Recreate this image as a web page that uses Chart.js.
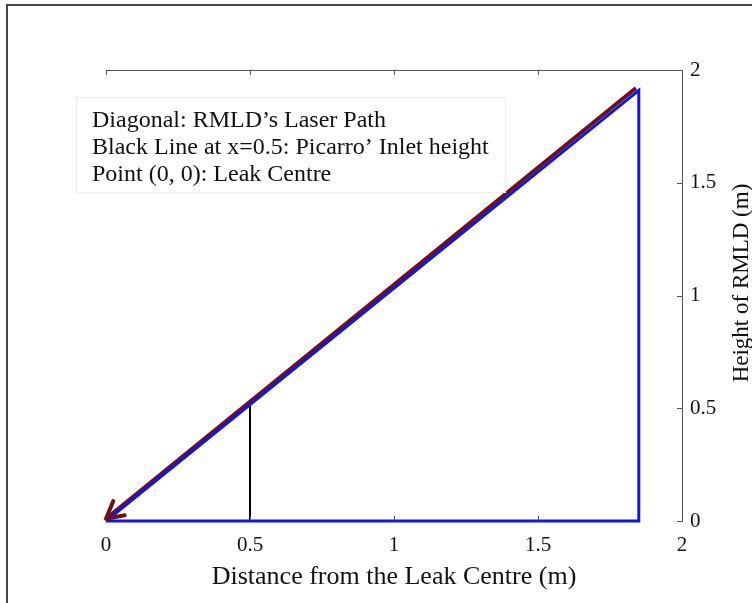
<!DOCTYPE html>
<html>
<head>
<meta charset="utf-8">
<script src="https://cdn.jsdelivr.net/npm/chart.js@4/dist/chart.umd.min.js"></script>
<style>
  body { margin: 0; background: #fff; }
  #wrap { position: relative; width: 752px; height: 603px; overflow: hidden; }
  #frame { position: absolute; left: 6px; top: 4px; width: 800px; height: 700px;
           border-left: 2px solid #444; border-top: 2px solid #444; pointer-events: none; }
</style>
</head>
<body>
<div id="wrap">
  <canvas id="geometry" width="752" height="603"></canvas>
  <div id="frame"></div>
</div>
<script>
// outline of the measurement triangle (blue)
const outlineX = [0, 1.85, 1.85, 0];
const outlineY = [0, 0, 1.91, 0];
// RMLD laser path, drawn from the instrument down to the leak centre
const laserX = [1.84, 0];
const laserY = [1.92, 0.01];
// Picarro inlet at x = 0.5
const inletX = [0.5, 0.5];
const inletY = [0, 0.515];

const tickValues = [0, 0.5, 1, 1.5, 2];
const notes = [
  "Diagonal: RMLD\u2019s Laser Path",
  "Black Line at x=0.5: Picarro\u2019 Inlet height",
  "Point (0, 0): Leak Centre",
];
const yTitle = "Height of RMLD (m)";
const xTitle = "Distance from the Leak Centre (m)";

const serif = "'Liberation Serif', 'Times New Roman', serif";

function pts(xs, ys) {
  return xs.map((x, i) => ({ x: x, y: ys[i] }));
}

const axisDecor = {
  id: "axisDecor",
  afterDatasetsDraw(chart) {
    const { ctx, chartArea: a, scales } = chart;
    const xs = scales.x, ys = scales.y;
    ctx.save();

    // top border and inward ticks
    ctx.strokeStyle = "#555";
    ctx.lineWidth = 1;
    ctx.beginPath();
    ctx.moveTo(a.left, a.top + 0.5);
    ctx.lineTo(a.right, a.top + 0.5);
    tickValues.forEach(v => {
      const px = Math.round(xs.getPixelForValue(v)) + 0.5;
      ctx.moveTo(px, a.top);
      ctx.lineTo(px, a.top + 5);
      ctx.moveTo(px, a.bottom);
      ctx.lineTo(px, a.bottom - 5);
    });
    tickValues.forEach(v => {
      const py = Math.round(ys.getPixelForValue(v)) + 0.5;
      ctx.moveTo(a.right, py);
      ctx.lineTo(a.right - 5, py);
    });
    ctx.stroke();

    // arrowhead at the end of the laser path
    const meta = chart.getDatasetMeta(1).data;
    const tip = meta[meta.length - 1], prev = meta[meta.length - 2];
    const ang = Math.atan2(prev.y - tip.y, prev.x - tip.x);
    ctx.strokeStyle = "#6b1212";
    ctx.lineWidth = 4;
    ctx.lineCap = "round";
    ctx.beginPath();
    [0.5, -0.5].forEach(d => {
      ctx.moveTo(tip.x, tip.y);
      ctx.lineTo(tip.x + 19 * Math.cos(ang + d), tip.y + 19 * Math.sin(ang + d));
    });
    ctx.stroke();

    // note box
    ctx.fillStyle = "#fff";
    ctx.fillRect(76, 97, 430, 96);
    ctx.strokeStyle = "#ececec";
    ctx.lineWidth = 1;
    ctx.strokeRect(76.5, 97.5, 429, 95);
    ctx.fillStyle = "#111";
    ctx.font = "24px " + serif;
    ctx.textBaseline = "alphabetic";
    ctx.textAlign = "left";
    notes.forEach((t, i) => ctx.fillText(t, 92, 127 + i * 27));

    // y axis title, reading bottom to top
    ctx.translate(748, 283);
    ctx.rotate(-Math.PI / 2);
    ctx.textAlign = "center";
    ctx.font = "23px " + serif;
    ctx.fillText(yTitle, 0, 0);
    ctx.restore();
  }
};

const tickFont = { family: serif, size: 21 };

new Chart(document.getElementById("geometry"), {
  type: "scatter",
  data: {
    datasets: [
      {
        data: pts(outlineX, outlineY),
        showLine: true,
        borderColor: "#1212ee",
        borderWidth: 3,
        pointRadius: 0,
        clip: false,
      },
      {
        data: pts(laserX, laserY),
        showLine: true,
        borderColor: "#6b1212",
        borderWidth: 4,
        pointRadius: 0,
        clip: false,
      },
      {
        data: pts(inletX, inletY),
        showLine: true,
        borderColor: "#000",
        borderWidth: 2,
        pointRadius: 0,
        clip: false,
      },
    ],
  },
  options: {
    responsive: false,
    animation: false,
    layout: { padding: { left: 106, top: 70, right: 0, bottom: 0 } },
    plugins: { legend: { display: false }, tooltip: { enabled: false } },
    scales: {
      x: {
        type: "linear",
        min: 0,
        max: 2,
        afterBuildTicks: s => { s.ticks = tickValues.map(v => ({ value: v })); },
        afterFit: s => { s.height = 82; },
        grid: { display: false, drawTicks: false },
        border: { display: false },
        ticks: { color: "#111", padding: 12, font: tickFont, callback: v => String(v) },
        title: {
          display: true,
          text: xTitle,
          color: "#111",
          font: { family: serif, size: 26 },
          padding: { top: 0, bottom: 10 },
        },
      },
      y: {
        type: "linear",
        position: "right",
        min: 0,
        max: 2,
        afterBuildTicks: s => { s.ticks = tickValues.map(v => ({ value: v })); },
        afterFit: s => { s.width = 70; },
        grid: { display: false, drawTicks: false },
        border: { display: true, color: "#555", width: 1 },
        ticks: { color: "#111", padding: 8, font: tickFont, callback: v => String(v) },
      },
    },
  },
  plugins: [axisDecor],
});
</script>
</body>
</html>
